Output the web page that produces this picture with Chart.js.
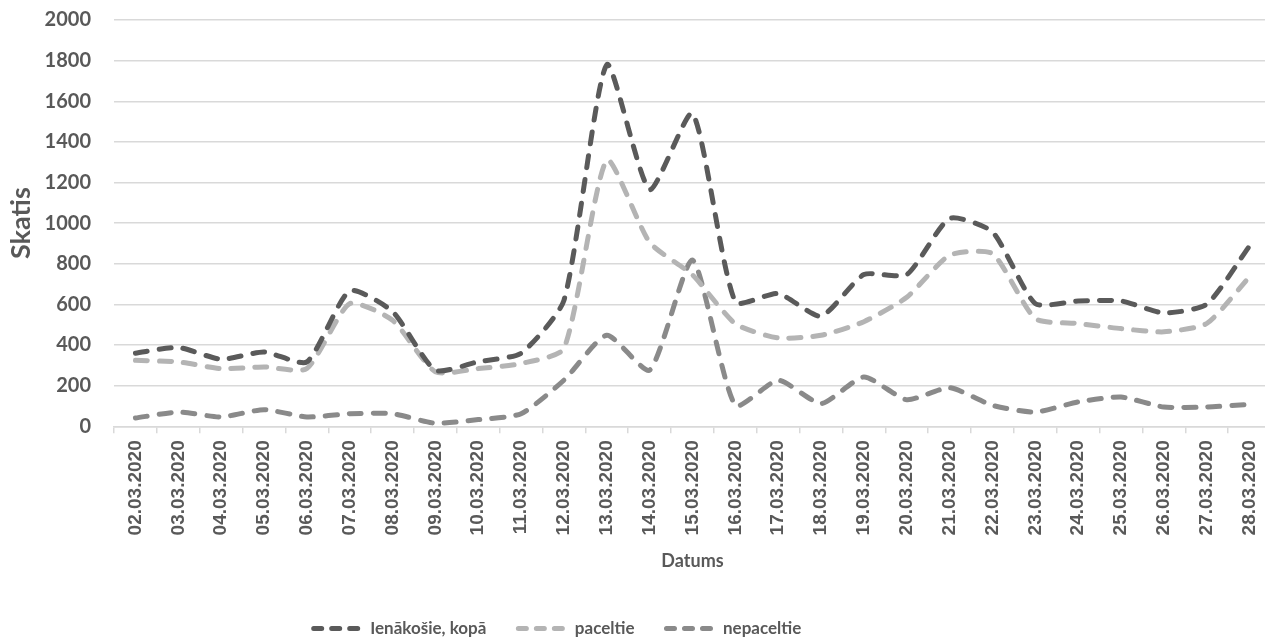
<!DOCTYPE html>
<html lang="lv">
<head>
    <meta charset="UTF-8">
    <title>Skatis pa datumiem</title>
    <script src="https://cdn.jsdelivr.net/npm/chart.js"></script>
    <style>
        html, body { margin: 0; padding: 0; background: #fff; overflow: hidden; }
        #wrap { width: 1265px; height: 639px; overflow: hidden; }
    </style>
</head>
<body>
    <div id="wrap">
        <!-- audekls nedaudz lielāks par logu, lai zīmēšanas laukums iet līdz malai kā oriģinālā -->
        <canvas id="grafiks" width="1272" height="647"></canvas>
    </div>

    <script>
        // dati nolasīti no attēla
        const datumi = ['02.03.2020', '03.03.2020', '04.03.2020', '05.03.2020', '06.03.2020', '07.03.2020',
            '08.03.2020', '09.03.2020', '10.03.2020', '11.03.2020', '12.03.2020', '13.03.2020', '14.03.2020',
            '15.03.2020', '16.03.2020', '17.03.2020', '18.03.2020', '19.03.2020', '20.03.2020', '21.03.2020',
            '22.03.2020', '23.03.2020', '24.03.2020', '25.03.2020', '26.03.2020', '27.03.2020', '28.03.2020'];

        const ienakosie = [360, 388, 330, 366, 317, 667, 565, 276, 318, 360, 620, 1780, 1165, 1540,
            612, 654, 542, 747, 747, 1023, 957, 604, 617, 617, 558, 601, 888];

        const paceltie = [325, 317, 284, 292, 284, 604, 522, 268, 284, 309, 383, 1310, 905, 745,
            505, 435, 448, 515, 635, 842, 850, 530, 506, 481, 465, 506, 736];

        const nepaceltie = [41, 70, 46, 82, 46, 62, 62, 15, 33, 62, 227, 448, 276, 818,
            103, 227, 112, 243, 131, 190, 103, 70, 120, 144, 95, 95, 108];

        const yTicks = [0, 200, 400, 600, 800, 1000, 1200, 1400, 1600, 1800, 2000];

        const teksts = '#595959';
        const rezgis = '#d9d9d9';

        function linija(nosaukums, dati, krasa) {
            return {
                label: nosaukums,
                data: dati,
                borderColor: krasa,
                backgroundColor: krasa,
                borderWidth: 5,
                borderDash: [12, 12],
                borderCapStyle: 'round',
                borderJoinStyle: 'round',
                tension: 0.2,
                pointRadius: 0,
                pointStyle: 'line',
                fill: false
            };
        }

        // leģenda oriģinālā nav centrēta, pabīdām pa kreisi
        const legendasNobide = {
            id: 'legendasNobide',
            afterLayout(chart) {
                chart.legend.left -= 78;
                chart.legend.right -= 78;
            }
        };

        const ctx = document.getElementById('grafiks').getContext('2d');

        new Chart(ctx, {
            type: 'line',
            data: {
                labels: datumi,
                datasets: [
                    linija('Ienākošie, kopā', ienakosie, '#5a5a5a'),
                    linija('paceltie', paceltie, '#b4b4b4'),
                    linija('nepaceltie', nepaceltie, '#8a8a8a')
                ]
            },
            plugins: [legendasNobide],
            options: {
                responsive: false,
                animation: false,
                devicePixelRatio: 1,
                layout: {
                    padding: { top: 20, right: 1, left: 0, bottom: 0 }
                },
                plugins: {
                    tooltip: { enabled: false },
                    legend: {
                        position: 'bottom',
                        labels: {
                            usePointStyle: true,
                            pointStyleWidth: 48,
                            boxHeight: 5,
                            padding: 32,
                            color: teksts,
                            font: { family: 'Lato', size: 17, weight: 'bold' },
                            generateLabels(chart) {
                                const items = Chart.defaults.plugins.legend.labels.generateLabels(chart);
                                items.forEach(it => {
                                    it.lineDash = [8, 10];
                                    it.lineCap = 'round';
                                    it.lineWidth = 5;
                                });
                                return items;
                            }
                        }
                    }
                },
                scales: {
                    x: {
                        offset: true,
                        afterFit(axis) {
                            axis.paddingLeft = 0;
                            axis.paddingRight = 0;
                        },
                        grid: {
                            offset: true,
                            drawOnChartArea: false,
                            color: rezgis,
                            lineWidth: 1.5,
                            tickLength: 7
                        },
                        border: { display: true, color: rezgis, width: 1.5 },
                        ticks: {
                            minRotation: 90,
                            maxRotation: 90,
                            autoSkip: false,
                            padding: 7,
                            color: teksts,
                            font: { family: 'Liberation Sans', size: 19, weight: 'bold' }
                        },
                        title: {
                            display: true,
                            text: 'Datums',
                            color: teksts,
                            padding: { top: 8, bottom: 16 },
                            font: { family: 'Lato', size: 18, weight: 'bold' }
                        }
                    },
                    y: {
                        min: 0,
                        max: 2000,
                        afterBuildTicks(axis) {
                            axis.ticks = yTicks.map(v => ({ value: v }));
                        },
                        afterFit(axis) {
                            axis.paddingTop = 0;
                            axis.paddingBottom = 0;
                            axis.width = 114;
                        },
                        grid: {
                            color: rezgis,
                            lineWidth: 1.5,
                            drawTicks: false
                        },
                        border: { display: false },
                        ticks: {
                            padding: 23,
                            color: teksts,
                            font: { family: 'Lato', size: 20, weight: 'bold' },
                            callback: v => String(v)
                        },
                        title: {
                            display: true,
                            text: 'Skatis',
                            color: teksts,
                            padding: { top: 5, bottom: 7 },
                            font: { family: 'Lato', size: 27, weight: 'bold' }
                        }
                    }
                }
            }
        });
    </script>
</body>
</html>
